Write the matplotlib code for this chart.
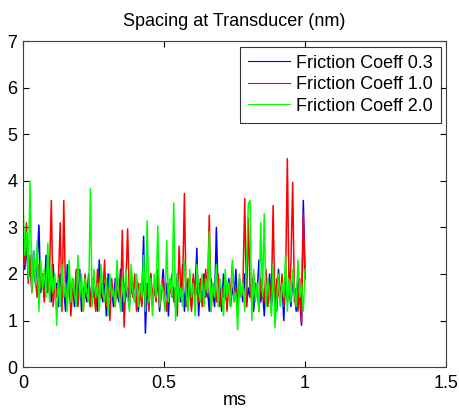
import numpy as np
import matplotlib
matplotlib.use("Agg")
import matplotlib.pyplot as plt

plt.rcParams['font.family'] = ['Liberation Sans', 'DejaVu Sans']

# Head-disk spacing samples (nm) over 0..1 ms for three friction coefficients
spacing_mu03 = [
    2.9, 2.1, 2.6, 1.9, 2.3, 1.7, 2.5, 1.8, 2.2, 3.05,
    1.6, 2.0, 1.5, 2.4, 1.7, 1.9, 1.4, 2.2, 1.6, 1.8,
    1.3, 2.0, 1.5, 1.7, 1.2, 2.2, 1.6, 1.4, 1.9, 1.3,
    1.8, 1.5, 2.1, 1.2, 1.7, 1.6, 1.4, 2.0, 1.3, 1.9,
    1.5, 1.7, 1.2, 2.3, 1.6, 1.4, 1.8, 1.1, 2.0, 1.5,
    1.7, 1.3, 1.9, 1.6, 1.4, 2.1, 1.2, 1.8, 1.5, 1.7,
    1.3, 2.0, 1.6, 1.4, 1.9, 1.2, 1.7, 1.5, 2.81, 0.73,
    1.8, 1.4, 2.0, 1.3, 1.7, 1.5, 1.9, 1.2, 1.6, 2.1,
    1.4, 1.8, 1.1, 1.9, 1.5, 1.7, 1.3, 2.0, 1.6, 1.4,
    2.2, 1.2, 1.8, 1.5, 1.7, 1.3, 1.9, 1.6, 2.55, 1.1,
    1.8, 1.4, 2.0, 1.5, 1.7, 1.2, 1.9, 1.6, 1.3, 3.0,
    1.5, 1.8, 1.2, 2.0, 1.6, 1.4, 1.9, 1.3, 1.7, 1.5,
    2.1, 1.2, 1.8, 1.6, 1.4, 2.0, 1.3, 1.7, 1.5, 1.9,
    1.2, 1.8, 1.6, 2.3, 1.4, 1.7, 1.1, 1.9, 1.5, 2.0,
    1.3, 1.7, 1.6, 1.2, 2.1, 1.5, 1.8, 1.0, 2.0, 1.4,
    1.7, 1.3, 1.9, 1.6, 1.2, 2.0, 1.5, 0.9, 3.58, 1.9,
]

spacing_mu10 = [
    2.8, 2.2, 3.1, 1.8, 2.4, 1.6, 2.3, 1.9, 1.5, 2.2,
    1.7, 2.0, 1.4, 1.9, 1.6, 2.1, 3.58, 1.3, 1.8, 1.5,
    1.9, 3.1, 1.2, 3.58, 1.6, 1.4, 2.0, 1.1, 1.7, 1.5,
    2.1, 1.3, 1.8, 1.6, 1.2, 2.0, 1.5, 1.7, 1.3, 1.9,
    1.6, 1.2, 2.1, 1.4, 1.8, 1.5, 2.3, 1.3, 1.7, 1.0,
    1.9, 1.5, 1.3, 2.0, 1.6, 1.4, 2.94, 0.86, 1.8, 2.97,
    1.4, 1.7, 1.5, 2.0, 1.2, 1.8, 1.6, 1.3, 1.9, 1.5,
    1.7, 1.2, 2.0, 1.5, 1.8, 1.4, 2.1, 1.3, 1.6, 1.9,
    1.5, 1.2, 1.8, 1.6, 2.0, 1.4, 1.7, 1.1, 2.6, 1.5,
    1.8, 3.73, 1.3, 1.9, 1.6, 1.2, 2.0, 1.5, 1.7, 1.4,
    1.9, 1.3, 1.6, 2.1, 1.5, 3.26, 1.2, 1.8, 1.6, 1.4,
    2.0, 1.3, 1.7, 1.5, 1.9, 1.2, 1.8, 1.6, 2.2, 1.4,
    1.7, 1.1, 1.9, 1.5, 1.8, 3.62, 1.3, 3.2, 1.6, 1.4,
    2.0, 1.5, 1.7, 1.2, 1.9, 1.6, 1.4, 2.1, 1.3, 1.8,
    1.5, 3.47, 1.2, 1.9, 1.6, 1.4, 2.0, 1.3, 1.8, 4.48,
    1.5, 2.2, 3.97, 1.4, 1.7, 1.2, 1.9, 0.95, 3.3, 2.0,
]

spacing_mu20 = [
    3.6, 2.4, 2.9, 1.9, 4.0, 1.6, 2.5, 1.8, 2.7, 1.2,
    2.3, 1.7, 2.1, 1.5, 2.66, 1.4, 2.2, 1.6, 2.0, 0.9,
    1.9, 1.3, 2.2, 1.5, 1.8, 1.2, 2.3, 1.4, 1.9, 1.6,
    1.3, 2.4, 1.5, 2.0, 1.2, 1.9, 1.6, 1.4, 3.83, 1.3,
    2.1, 1.5, 1.8, 1.2, 2.2, 1.6, 1.4, 1.9, 1.1, 2.0,
    1.5, 1.7, 1.3, 2.3, 1.6, 1.2, 1.9, 1.4, 2.1, 1.5,
    1.2, 2.2, 1.6, 1.4, 2.0, 1.3, 1.8, 1.5, 2.4, 1.2,
    3.14, 1.4, 1.9, 1.1, 2.0, 1.5, 3.03, 1.3, 1.8, 1.6,
    1.2, 2.72, 1.4, 1.9, 1.5, 3.52, 1.0, 2.0, 1.4, 1.7,
    1.3, 2.3, 1.6, 1.2, 2.1, 1.5, 1.8, 1.1, 2.2, 1.6,
    1.4, 2.0, 1.3, 1.9, 1.6, 2.9, 1.2, 1.8, 1.5, 2.2,
    1.3, 1.9, 1.6, 1.1, 2.1, 1.5, 1.8, 1.3, 2.3, 1.4,
    1.6, 0.8, 2.0, 1.5, 1.8, 1.2, 2.2, 3.5, 3.58, 1.0,
    2.1, 1.4, 1.8, 1.2, 3.1, 1.5, 3.3, 1.3, 1.9, 1.5,
    1.1, 2.2, 0.85, 1.4, 2.0, 1.3, 1.8, 1.5, 2.4, 1.2,
    1.9, 1.4, 2.1, 1.6, 1.3, 2.3, 1.5, 1.8, 1.2, 2.1,
]

series_labels = ["Friction Coeff 0.3", "Friction Coeff 1.0", "Friction Coeff 2.0"]
series_colors = ["#0000ff", "#ff0000", "#00ff00"]

x_ticks = [0, 0.5, 1, 1.5]
x_ticklabels = ["0", "0.5", "1", "1.5"]
y_ticks = [0, 1, 2, 3, 4, 5, 6, 7]

FS = 13

fig = plt.figure(figsize=(4.59, 4.12), dpi=100)
ax = fig.add_axes([0.050, 0.109, 0.922, 0.791])

for values, label, color in zip([spacing_mu03, spacing_mu10, spacing_mu20],
                                series_labels, series_colors):
    t = np.linspace(0.0, 1.0, len(values))
    ax.plot(t, values, color=color, lw=1.1, label=label)

ax.set_xlim(0, 1.5)
ax.set_ylim(0, 7)
ax.set_xticks(x_ticks)
ax.set_xticklabels(x_ticklabels)
ax.set_yticks(y_ticks)
ax.tick_params(direction="in", top=True, right=True, length=4, width=0.8,
               labelsize=FS, colors="#000000")
ax.tick_params(axis="x", pad=6)
ax.tick_params(axis="y", pad=4)
for s in ax.spines.values():
    s.set_linewidth(0.8)
    s.set_color("#404040")

ax.set_title("Spacing at Transducer (nm)", fontsize=FS, pad=11)
ax.set_xlabel("ms", fontsize=FS, labelpad=0)

leg = ax.legend(loc="upper right", fontsize=FS, frameon=True, fancybox=False,
                borderpad=0.45, labelspacing=0.25, handlelength=2.3,
                handletextpad=0.35, borderaxespad=0.3)
leg.get_frame().set_edgecolor("#000000")
leg.get_frame().set_linewidth(0.8)
for line in leg.get_lines():
    line.set_linewidth(0.8)

fig.savefig("out.png", dpi=100)
